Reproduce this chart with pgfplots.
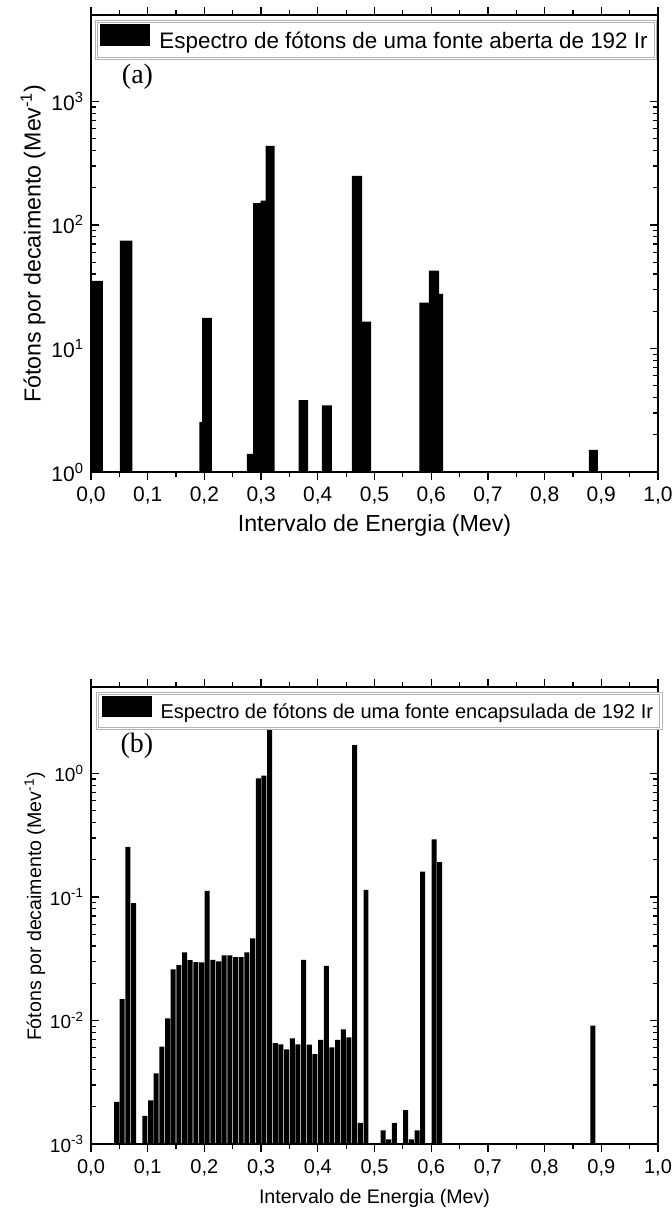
\documentclass[border=0pt]{standalone}
\usepackage{fontspec}
\setmainfont{Liberation Sans}
\newfontfamily\seriffont{Liberation Serif}
\usepackage{pgfplots}
\pgfplotsset{compat=1.18}

\pgfplotsset{
  common/.style={
    scale only axis, width=283.5pt, height=228.5pt,
    xmin=0, xmax=1,
    xtick={0,0.1,0.2,0.3,0.4,0.5,0.6,0.7,0.8,0.9,1.0},
    xticklabels={{0,0},{0,1},{0,2},{0,3},{0,4},{0,5},{0,6},{0,7},{0,8},{0,9},{1,0}},
    minor x tick num=1,
    xtick align=outside, ytick align=inside,
    major tick length=4pt, minor tick length=2.5pt,
    every tick/.style={black, line width=0.6pt},
    axis line style={line width=0.8pt},
    legend cell align=left,
  }
}

\begin{document}
\begin{tikzpicture}
\useasboundingbox (0,0) rectangle (336pt,-606pt);

% ---------- (a) open source ----------
\begin{axis}[ymode=log, common, at={(45.5pt,-236pt)}, anchor=south west,
  ymin=1, ymax=5000, log origin=0,
  ytick={1,10,100,1000},
  yticklabels={10\textsuperscript{0},10\textsuperscript{1},10\textsuperscript{2},10\textsuperscript{3}},
  x tick label style={font=\fontsize{10.5}{12}\selectfont},
  y tick label style={font=\fontsize{10.5}{12}\selectfont},
  xlabel={Intervalo de Energia (Mev)},
  ylabel={Fótons por decaimento (Mev\textsuperscript{-1})},
  label style={font=\fontsize{11.6}{13}\selectfont},
  x label style={at={(axis description cs:0.5,-0.118)}, anchor=center},
  y label style={at={(axis description cs:-0.102,0.5)}, anchor=center},
  legend style={at={(axis description cs:0.0088,0.987)}, anchor=north west,
    draw=gray!60, line width=0.5pt, double=white, double distance=0.6pt,
    font=\fontsize{11.2}{13}\selectfont,
    inner xsep=2pt, inner ysep=1.5pt,
    /tikz/every odd column/.append style={column sep=2.5pt}},
]
\addplot[ybar interval, fill=black, draw=none,
  legend image code/.code={\fill[black] (0pt,-2.5pt) rectangle (25pt,8.5pt);}]
  coordinates {
  (0,35.2) (0.021,1) (0.051,74.6) (0.073,1) (0.191,2.55) (0.196,17.7) (0.213,1)
  (0.275,1.40) (0.286,150) (0.299,157) (0.308,436) (0.324,1) (0.366,3.81) (0.383,1)
  (0.407,3.47) (0.425,1) (0.460,249) (0.478,16.5) (0.494,1) (0.579,23.5) (0.596,42.7)
  (0.614,27.6) (0.621,1) (0.878,1.51) (0.894,1)
  };
\addlegendentry{Espectro de fótons de uma fonte aberta de 192 Ir}
\node[font=\seriffont\fontsize{14}{16}\selectfont] at (axis description cs:0.082,0.864) {(a)};
\end{axis}

% ---------- (b) encapsulated source ----------
\begin{axis}[ymode=log, common, at={(45.5pt,-572pt)}, anchor=south west,
  ymin=0.001, ymax=5, log origin=infty,
  ytick={0.001,0.01,0.1,1},
  yticklabels={10\textsuperscript{-3},10\textsuperscript{-2},10\textsuperscript{-1},10\textsuperscript{0}},
  x tick label style={font=\fontsize{10}{12}\selectfont},
  y tick label style={font=\fontsize{9.5}{11}\selectfont},
  xlabel={Intervalo de Energia (Mev)},
  ylabel={Fótons por decaimento (Mev\textsuperscript{-1})},
  label style={font=\fontsize{9.8}{12}\selectfont},
  x label style={at={(axis description cs:0.5,-0.118)}, anchor=center},
  y label style={at={(axis description cs:-0.099,0.52)}, anchor=center},
  legend style={at={(axis description cs:0.0106,0.987)}, anchor=north west,
    draw=gray!60, line width=0.5pt, double=white, double distance=0.6pt,
    font=\fontsize{10}{12}\selectfont,
    inner xsep=2pt, inner ysep=1.5pt,
    /tikz/every odd column/.append style={column sep=2.5pt}},
]
\addplot[ybar interval, bar interval width=0.88, fill=black, draw=none,
  legend image code/.code={\fill[black] (0pt,-2.5pt) rectangle (25pt,8pt);}]
  coordinates {
  (0.04,0.00219) (0.05,0.0149) (0.06,0.254) (0.07,0.089) (0.08,0.001)
  (0.09,0.00169) (0.10,0.00226) (0.11,0.00373) (0.12,0.00613) (0.13,0.0104)
  (0.14,0.0259) (0.15,0.0281) (0.16,0.0356) (0.17,0.0308) (0.18,0.0297)
  (0.19,0.0295) (0.20,0.112) (0.21,0.0310) (0.22,0.0301) (0.23,0.0336)
  (0.24,0.0336) (0.25,0.0326) (0.26,0.0326) (0.27,0.0356) (0.28,0.0462)
  (0.29,0.91) (0.30,0.957) (0.31,2.63) (0.32,0.00657) (0.33,0.00641)
  (0.34,0.00583) (0.35,0.00716) (0.36,0.00641) (0.37,0.0310) (0.38,0.00637)
  (0.39,0.00535) (0.40,0.00695) (0.41,0.0277) (0.42,0.00606) (0.43,0.00695)
  (0.44,0.00847) (0.45,0.00730) (0.46,1.69) (0.47,0.00148) (0.48,0.114)
  (0.49,0.001) (0.50,0.001) (0.51,0.00129) (0.52,0.00109) (0.53,0.00148)
  (0.54,0.001) (0.55,0.00188) (0.56,0.00109) (0.57,0.00129) (0.58,0.160)
  (0.59,0.001) (0.60,0.292) (0.61,0.191) (0.62,0.001) (0.88,0.0091) (0.89,0.001)
  };
\addlegendentry{Espectro de fótons de uma fonte encapsulada de 192 Ir}
\node[font=\seriffont\fontsize{14}{16}\selectfont] at (axis description cs:0.081,0.871) {(b)};
\end{axis}
\end{tikzpicture}
\end{document}
